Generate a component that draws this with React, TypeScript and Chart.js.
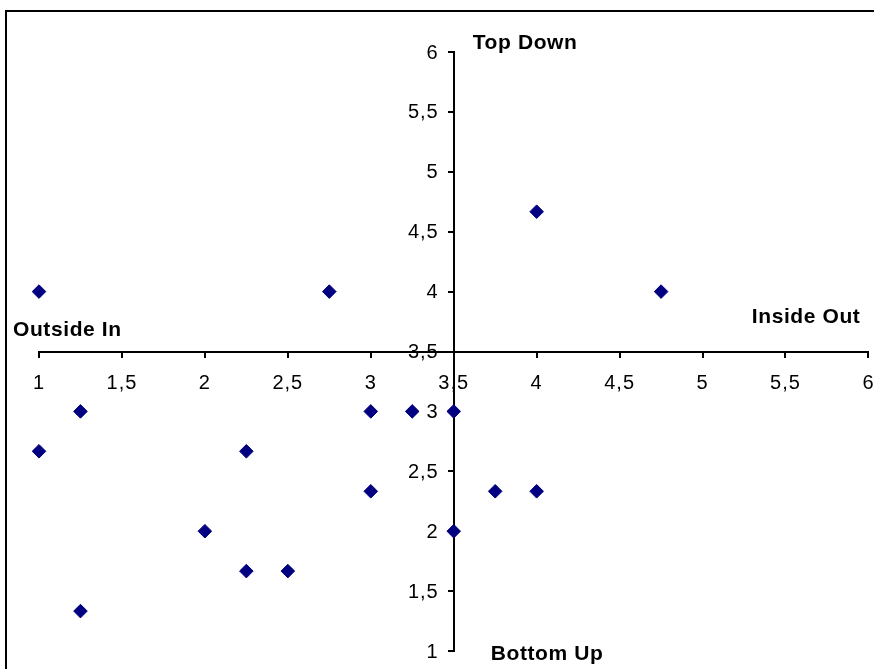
import React, { useEffect, useRef } from "react";
import { Chart, registerables } from "chart.js";

Chart.register(...registerables);

const xValues = [1, 2.75, 4, 4.75, 1.25, 1, 2.25, 3, 3.25, 3.5, 3, 3.75, 4, 2, 3.5, 2.25, 2.5, 1.25];
const yValues = [4, 4, 4.667, 4, 3, 2.667, 2.667, 3, 3, 3, 2.333, 2.333, 2.333, 2, 2, 1.667, 1.667, 1.333];
const xTickLabels = ["1", "1,5", "2", "2,5", "3", "3,5", "4", "4,5", "5", "5,5", "6"];
const yTickLabels = ["1", "1,5", "2", "2,5", "3", "3,5", "4", "4,5", "5", "5,5", "6"];
const quadrantLabels = ["Top Down", "Bottom Up", "Outside In", "Inside Out"];

const FONT = "Arial, 'Liberation Sans', sans-serif";

const decorPlugin = {
  id: "decor",
  beforeDraw(chart: any) {
    const ctx = chart.ctx;
    ctx.save();
    ctx.strokeStyle = "#000";
    ctx.lineWidth = 2;
    ctx.beginPath();
    ctx.moveTo(6, 2000);
    ctx.lineTo(6, 11);
    ctx.lineTo(2000, 11);
    ctx.stroke();
    ctx.restore();
    ctx.letterSpacing = "1px";
  },
  afterDraw(chart: any) {
    const ctx = chart.ctx;
    const xs = chart.scales.x;
    const ys = chart.scales.y;
    const cx = xs.getPixelForValue(3.5);
    const cy = ys.getPixelForValue(3.5);
    const area = chart.chartArea;
    ctx.save();
    ctx.fillStyle = "#000";
    ctx.letterSpacing = "1px";
    // y tick labels, placed left of the centred axis
    ctx.font = `20px ${FONT}`;
    ctx.textAlign = "right";
    ctx.textBaseline = "middle";
    ys.ticks.forEach((t: any) => {
      const idx = Math.round((t.value - 1) * 2);
      const lbl = yTickLabels[idx];
      if (lbl !== undefined) ctx.fillText(lbl, cx - 15, ys.getPixelForValue(t.value) + 1);
    });
    ctx.letterSpacing = "0.6px";
    ctx.font = `bold 21px ${FONT}`;
    ctx.textBaseline = "alphabetic";
    ctx.textAlign = "left";
    ctx.fillText(quadrantLabels[0], cx + 19, area.top - 3);
    ctx.fillText(quadrantLabels[1], cx + 37, area.bottom + 9);
    ctx.fillText(quadrantLabels[2], area.left - 26, cy - 16);
    ctx.textAlign = "right";
    ctx.fillText(quadrantLabels[3], area.right - 8, cy - 29);
    ctx.restore();
    ctx.letterSpacing = "0px";
  },
};

export default function App() {
  const ref = useRef<HTMLCanvasElement | null>(null);
  useEffect(() => {
    if (!ref.current) return;
    const chart = new Chart(ref.current, {
      type: "scatter",
      data: {
        datasets: [
          {
            data: xValues.map((x, i) => ({ x, y: yValues[i] })),
            pointStyle: "rectRot",
            pointRadius: 6.8,
            pointBorderWidth: 1,
            backgroundColor: "#000080",
            borderColor: "#000080",
            clip: false,
          } as any,
        ],
      },
      options: {
        animation: false,
        responsive: false,
        layout: { padding: { left: 39, right: 6, top: 52, bottom: 18 } },
        plugins: { legend: { display: false }, tooltip: { enabled: false } },
        scales: {
          x: {
            type: "linear",
            position: { y: 3.5 } as any,
            min: 1,
            max: 6,
            grid: { drawOnChartArea: false, drawTicks: true, tickLength: 5, color: "#000", lineWidth: 2 },
            border: { color: "#000", width: 2 },
            ticks: {
              stepSize: 0.5,
              color: "#000",
              font: { family: FONT, size: 20 },
              padding: 15,
              maxRotation: 0,
              autoSkip: false,
              callback: (v: any) => xTickLabels[Math.round((Number(v) - 1) * 2)] ?? "",
            },
          },
          y: {
            type: "linear",
            position: { x: 3.5 } as any,
            min: 1,
            max: 6,
            grid: { drawOnChartArea: false, drawTicks: true, tickLength: 5, color: "#000", lineWidth: 2 },
            border: { color: "#000", width: 2 },
            ticks: {
              stepSize: 0.5,
              display: false,
            },
          },
        },
      },
      plugins: [decorPlugin],
    });
    return () => chart.destroy();
  }, []);
  return (
    <div style={{ position: "fixed", left: 0, top: 0, width: 874, height: 669, overflow: "hidden", background: "#fff" }}>
      <canvas ref={ref} width={889} height={669} style={{ display: "block" }} />
    </div>
  );
}
